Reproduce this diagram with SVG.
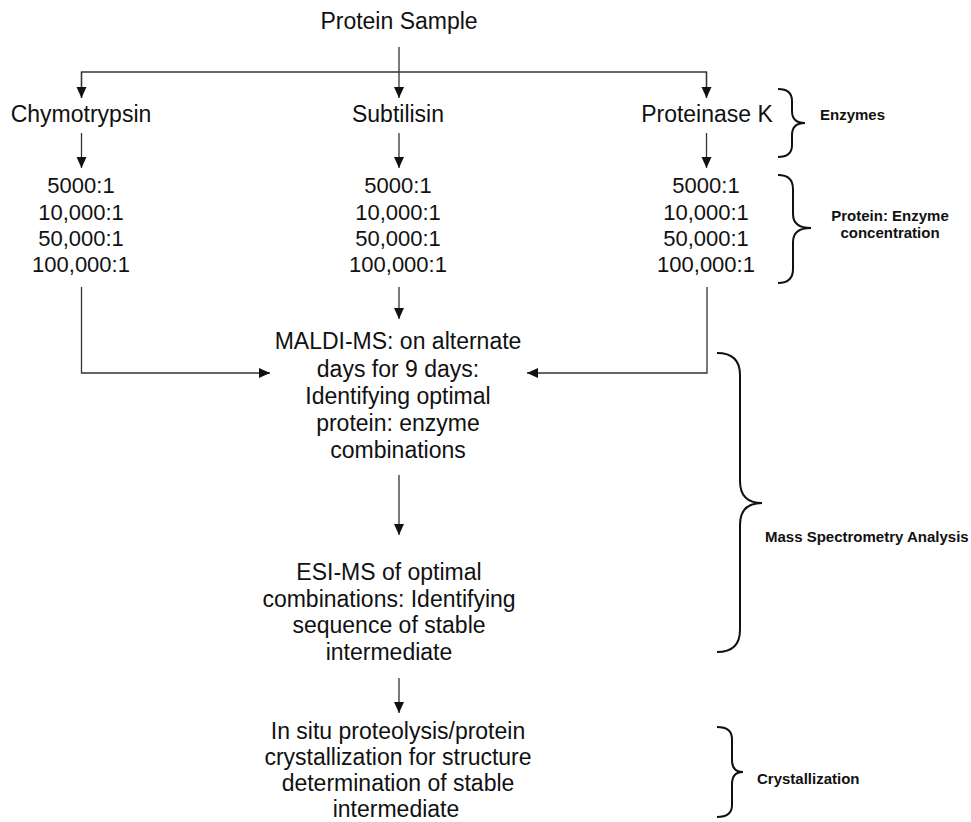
<svg xmlns="http://www.w3.org/2000/svg" width="971" height="822" viewBox="0 0 971 822">
<style>
.t{font-family:"Liberation Sans",Arial,sans-serif;font-size:23px;fill:#111;text-anchor:middle}
.n{font-family:"Liberation Sans",Arial,sans-serif;font-size:22px;fill:#111;text-anchor:middle}
.b{font-family:"Liberation Sans",Arial,sans-serif;font-size:15px;font-weight:bold;fill:#111}
.c{fill:none;stroke:#333;stroke-width:1.3}
.a{marker-end:url(#ah)}
.br{fill:none;stroke:#111;stroke-width:2}
</style>
<defs>
<marker id="ah" markerUnits="userSpaceOnUse" markerWidth="12" markerHeight="12" viewBox="0 0 12 12" refX="11" refY="6" orient="auto">
<path d="M0,1 L11,6 L0,11 Z" fill="#111"/>
</marker>
</defs>
<g id="connectors">
<line class="c a" x1="399" y1="47" x2="399" y2="98"/>
<polyline class="c" points="81.5,98 81.5,72 706.5,72 706.5,98"/>
<line class="c a" x1="81.5" y1="72" x2="81.5" y2="98"/>
<line class="c a" x1="706.5" y1="72" x2="706.5" y2="98"/>
<line class="c a" x1="81.5" y1="133" x2="81.5" y2="168"/>
<line class="c a" x1="399" y1="133" x2="399" y2="168"/>
<line class="c a" x1="706.5" y1="133" x2="706.5" y2="168"/>
<polyline class="c a" points="81.5,287 81.5,373 270,373"/>
<line class="c a" x1="399" y1="287" x2="399" y2="319"/>
<polyline class="c a" points="707,287 707,373 527,373"/>
<line class="c a" x1="399" y1="475" x2="399" y2="535"/>
<line class="c a" x1="399" y1="678" x2="399" y2="713"/>
</g>
<g id="protein-sample"><text class="t" x="399" y="29">Protein Sample</text></g>
<g id="chymotrypsin"><text class="t" x="81" y="122">Chymotrypsin</text></g>
<g id="subtilisin"><text class="t" x="398" y="122">Subtilisin</text></g>
<g id="proteinase-k"><text class="t" x="707" y="122">Proteinase K</text></g>
<g id="ratios-chymotrypsin">
<text class="n" x="81" y="193">5000:1</text>
<text class="n" x="81" y="219.5">10,000:1</text>
<text class="n" x="81" y="246">50,000:1</text>
<text class="n" x="81" y="272">100,000:1</text>
</g>
<g id="ratios-subtilisin">
<text class="n" x="398" y="193">5000:1</text>
<text class="n" x="398" y="219.5">10,000:1</text>
<text class="n" x="398" y="246">50,000:1</text>
<text class="n" x="398" y="272">100,000:1</text>
</g>
<g id="ratios-proteinase-k">
<text class="n" x="706" y="193">5000:1</text>
<text class="n" x="706" y="219.5">10,000:1</text>
<text class="n" x="706" y="246">50,000:1</text>
<text class="n" x="706" y="272">100,000:1</text>
</g>
<g id="maldi">
<text class="t" x="398" y="349">MALDI-MS: on alternate</text>
<text class="t" x="398" y="376.5">days for 9 days:</text>
<text class="t" x="398" y="404">Identifying optimal</text>
<text class="t" x="398" y="431">protein: enzyme</text>
<text class="t" x="398" y="458">combinations</text>
</g>
<g id="esi">
<text class="t" x="389" y="580">ESI-MS of optimal</text>
<text class="t" x="389" y="606.7">combinations: Identifying</text>
<text class="t" x="389" y="633.3">sequence of stable</text>
<text class="t" x="389" y="660">intermediate</text>
</g>
<g id="in-situ">
<text class="t" x="398" y="739">In situ proteolysis/protein</text>
<text class="t" x="398" y="765">crystallization for structure</text>
<text class="t" x="398" y="791">determination of stable</text>
<text class="t" x="396" y="817">intermediate</text>
</g>
<g id="brace-enzymes">
<path class="br" d="M778,89 Q792,89 792,101 L792,111 Q792,123 805,123 Q792,123 792,135 L792,145 Q792,157 778,157"/>
<text class="b" x="820" y="120">Enzymes</text>
</g>
<g id="brace-concentration">
<path class="br" d="M778,175 Q793,175 793,189 L793,214 Q793,228 811,228 Q793,228 793,242 L793,269 Q793,283 778,283"/>
<text class="b" x="890" y="221" text-anchor="middle">Protein: Enzyme</text>
<text class="b" x="890" y="238" text-anchor="middle">concentration</text>
</g>
<g id="brace-mass-spec">
<path class="br" d="M717,353 Q740,353 740,375 L740,481 Q740,503 762,503 Q740,503 740,525 L740,630 Q740,652 717,652"/>
<text class="b" x="765" y="542">Mass Spectrometry Analysis</text>
</g>
<g id="brace-crystallization">
<path class="br" d="M717,727 Q732,727 732,739 L732,760 Q732,772 743,772 Q732,772 732,784 L732,805 Q732,817 717,817"/>
<text class="b" x="757" y="784">Crystallization</text>
</g>
</svg>
